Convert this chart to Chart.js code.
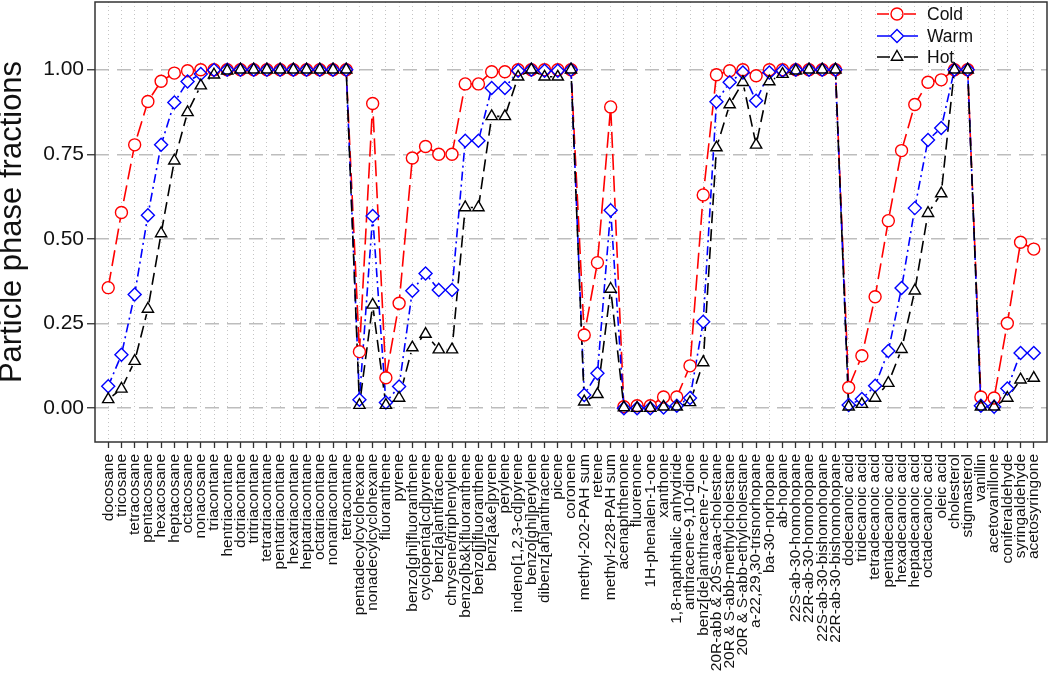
<!DOCTYPE html>
<html>
<head>
<meta charset="utf-8">
<script src="https://cdn.jsdelivr.net/npm/chart.js@4/dist/chart.umd.min.js"></script>
<style>
  html, body { margin: 0; padding: 0; background: #fff; }
  #wrap { width: 1050px; height: 679px; }
</style>
</head>
<body>
<div id="wrap"><canvas id="fractionChart" width="1050" height="679"></canvas></div>
<script>
// compounds, in plotting order
const compounds = [
  'docosane', 'tricosane', 'tetracosane', 'pentacosane', 'hexacosane', 'heptacosane',
  'octacosane', 'nonacosane', 'triacontane', 'hentriacontane', 'dotriacontane',
  'tritriacontane', 'tetratriacontane', 'pentatriacontane', 'hexatriacontane',
  'heptatriacontane', 'octatriacontane', 'nonatriacontane', 'tetracontane',
  'pentadecylcyclohexane', 'nonadecylcyclohexane', 'fluoranthene', 'pyrene',
  'benzo[ghi]fluoranthene', 'cyclopenta[cd]pyrene', 'benz[a]anthracene',
  'chrysene/triphenylene', 'benzo[b&k]fluoranthene', 'benzo[j]fluoranthene',
  'benz[a&e]pyrene', 'perylene', 'indeno[1,2,3-cd]pyrene', 'benzo[ghi]perylene',
  'dibenz[ah]anthracene', 'picene', 'coronene', 'methyl-202-PAH sum', 'retene',
  'methyl-228-PAH sum', 'acenaphthenone', 'fluorenone', '1H-phenalen-1-one', 'xanthone',
  '1,8-naphthalic anhydride', 'anthracene-9,10-dione', 'benz[de]anthracene-7-one',
  '20R-abb & 20S-aaa-cholestane', '20R & S-abb-methylcholestane',
  '20R & S-abb-ethylcholestane', 'a-22,29,30-trisnorhopane', 'ba-30-norhopane',
  'ab-hopane', '22S-ab-30-homohopane', '22R-ab-30-homohopane',
  '22S-ab-30-bishomohopane', '22R-ab-30-bishomohopane', 'dodecanoic acid',
  'tridecanoic acid', 'tetradecanoic acid', 'pentadecanoic acid', 'hexadecanoic acid',
  'heptadecanoic acid', 'octadecanoic acid', 'oleic acid', 'cholesterol', 'stigmasterol',
  'vanillin', 'acetovanillone', 'coniferaldehyde', 'syringaldehyde', 'acetosyringone'
];

const cold = [
  0.356, 0.578, 0.778, 0.906, 0.966, 0.99, 0.997, 1, 1, 1, 1, 1, 1, 1, 1, 1, 1, 1, 1,
  0.167, 0.90, 0.09, 0.31, 0.739, 0.773, 0.75, 0.75, 0.958, 0.958, 0.994, 0.994, 1, 1, 1, 1, 1,
  0.216, 0.43, 0.89, 0.004, 0.007, 0.007, 0.033, 0.033, 0.125, 0.63, 0.985, 0.997, 1, 0.982, 1, 1, 1, 1, 1, 1,
  0.061, 0.155, 0.329, 0.554, 0.761, 0.897, 0.963, 0.97, 1, 1,
  0.033, 0.03, 0.251, 0.49, 0.47
];
const warm = [
  0.065, 0.158, 0.336, 0.57, 0.778, 0.903, 0.965, 0.987, 0.999, 1, 1, 1, 1, 1, 1, 1, 1, 1, 1,
  0.025, 0.568, 0.017, 0.064, 0.347, 0.398, 0.349, 0.349, 0.79, 0.79, 0.946, 0.946, 0.997, 1, 0.997, 0.997, 1,
  0.039, 0.103, 0.585, 0, 0, 0, 0.002, 0.007, 0.03, 0.255, 0.905, 0.963, 0.992, 0.908, 0.992, 0.997, 1, 1, 1, 1,
  0.009, 0.027, 0.066, 0.169, 0.355, 0.591, 0.792, 0.828, 1, 1,
  0.007, 0.004, 0.058, 0.163, 0.163
];
const hot = [
  0.026, 0.057, 0.139, 0.293, 0.516, 0.731, 0.874, 0.953, 0.985, 0.997, 1, 1, 1, 1, 1, 1, 1, 1, 1,
  0.009, 0.305, 0.009, 0.03, 0.179, 0.219, 0.173, 0.173, 0.593, 0.593, 0.862, 0.862, 0.979, 1, 0.979, 0.979, 1,
  0.019, 0.041, 0.352, 0.002, 0, 0, 0.004, 0.004, 0.017, 0.135, 0.77, 0.897, 0.963, 0.778, 0.965, 0.987, 0.997, 1, 1, 1,
  0.004, 0.012, 0.03, 0.074, 0.174, 0.347, 0.576, 0.634, 1, 1,
  0.004, 0.004, 0.03, 0.084, 0.089
];

const yTicks = [0, 0.25, 0.5, 0.75, 1];

const series = [
  { label: 'Cold', values: cold, color: '#ff0000', dash: [16, 6], marker: 'circle', r: 6 },
  { label: 'Warm', values: warm, color: '#0000ff', dash: [9, 4, 2, 4], marker: 'rectRot', r: 6.5 },
  { label: 'Hot', values: hot, color: '#000000', dash: [12, 6], marker: 'triangle', r: 6.5 }
];

const FONT = '"Liberation Sans", Arial, sans-serif';

const toPoints = vals => vals.map((v, i) => ({ x: i + 1, y: v }));

// three layers per series: line, white gap behind the marker, hollow marker
const datasets = [];
series.forEach((s, k) => {
  datasets.push({
    label: s.label, data: toPoints(s.values), borderColor: s.color, borderWidth: 1.6,
    borderDash: s.dash, pointRadius: 0, fill: false, tension: 0, order: 9 - k
  });
  datasets.push({
    label: s.label + '_gap', data: toPoints(s.values), showLine: false,
    pointStyle: 'circle', pointRadius: 5.5, pointBorderWidth: 0,
    pointBackgroundColor: '#ffffff', pointBorderColor: '#ffffff', order: 6 - k
  });
  datasets.push({
    label: s.label + '_mark', data: toPoints(s.values), showLine: false,
    pointStyle: s.marker, pointRadius: s.r, pointBorderWidth: 1.4,
    pointBorderColor: s.color, pointBackgroundColor: 'rgba(0,0,0,0)', order: 3 - k
  });
});

function marker(ctx, style, x, y, r) {
  ctx.beginPath();
  if (style === 'circle') {
    ctx.arc(x, y, r, 0, Math.PI * 2);
  } else if (style === 'rectRot') {
    ctx.moveTo(x, y - r); ctx.lineTo(x + r, y); ctx.lineTo(x, y + r); ctx.lineTo(x - r, y);
    ctx.closePath();
  } else {
    for (let j = 0; j < 3; j++) {
      const a = j * 2 * Math.PI / 3;
      const px = x + Math.sin(a) * r, py = y - Math.cos(a) * r;
      if (j === 0) ctx.moveTo(px, py); else ctx.lineTo(px, py);
    }
    ctx.closePath();
  }
  ctx.stroke();
}

const framePlugin = {
  id: 'frameAndLegend',
  afterDraw(chart) {
    const ctx = chart.ctx;
    const a = chart.chartArea;
    ctx.save();
    ctx.strokeStyle = '#333';
    ctx.lineWidth = 1.5;
    ctx.setLineDash([]);
    ctx.strokeRect(a.left, a.top, a.right - a.left, a.bottom - a.top);

    // legend, top right inside the plot
    const ys = [14, 36, 57];
    series.forEach((s, k) => {
      const y = ys[k];
      ctx.strokeStyle = s.color;
      ctx.lineWidth = 1.6;
      ctx.setLineDash(k === 0 ? [12, 6] : []);
      ctx.beginPath();
      ctx.moveTo(877, y); ctx.lineTo(890, y);
      ctx.moveTo(904, y); ctx.lineTo(918, y);
      ctx.stroke();
      ctx.setLineDash([]);
      ctx.lineWidth = 1.4;
      marker(ctx, s.marker, 897, y, s.r);
      ctx.fillStyle = '#111';
      ctx.font = '17.5px ' + FONT;
      ctx.textBaseline = 'middle';
      ctx.textAlign = 'left';
      ctx.fillText(s.label, 927, y + 1);
    });
    ctx.restore();
  }
};

new Chart(document.getElementById('fractionChart').getContext('2d'), {
  type: 'line',
  data: { datasets: datasets },
  plugins: [framePlugin],
  options: {
    responsive: false,
    animation: false,
    events: [],
    layout: { autoPadding: false, padding: { top: 2, right: 3, left: 0, bottom: 0 } },
    plugins: { legend: { display: false }, tooltip: { enabled: false } },
    scales: {
      x: {
        type: 'linear',
        min: 0,
        max: compounds.length + 1,
        afterBuildTicks: scale => { scale.ticks = compounds.map((c, i) => ({ value: i + 1 })); },
        afterFit: scale => { scale.height = 237; scale.paddingLeft = 0; scale.paddingRight = 0; },
        ticks: {
          autoSkip: false,
          minRotation: 90,
          maxRotation: 90,
          padding: 6,
          color: '#111',
          font: { family: FONT, size: 15.5 },
          callback: (v, i) => compounds[i]
        },
        grid: {
          color: '#c4c4c4',
          lineWidth: 1,
          tickColor: '#333',
          tickWidth: 1.3,
          tickLength: 6,
          tickBorderDash: []
        },
        border: { display: false, dash: [1, 3] }
      },
      y: {
        min: -0.1,
        max: 1.2,
        afterBuildTicks: scale => { scale.ticks = yTicks.map(v => ({ value: v })); },
        afterFit: scale => { scale.width = 95; scale.paddingTop = 0; scale.paddingBottom = 0; },
        ticks: {
          padding: 3,
          color: '#111',
          font: { family: FONT, size: 21 },
          callback: v => v.toFixed(2)
        },
        grid: {
          color: '#bdbdbd',
          lineWidth: 1.5,
          tickColor: '#333',
          tickWidth: 1.3,
          tickLength: 8,
          tickBorderDash: []
        },
        border: { display: false, dash: [14, 8] },
        title: {
          display: true,
          text: 'Particle phase fractions',
          color: '#111',
          font: { family: FONT, size: 31, lineHeight: 0.8 },
          padding: 0
        }
      }
    }
  }
});
</script>
</body>
</html>
